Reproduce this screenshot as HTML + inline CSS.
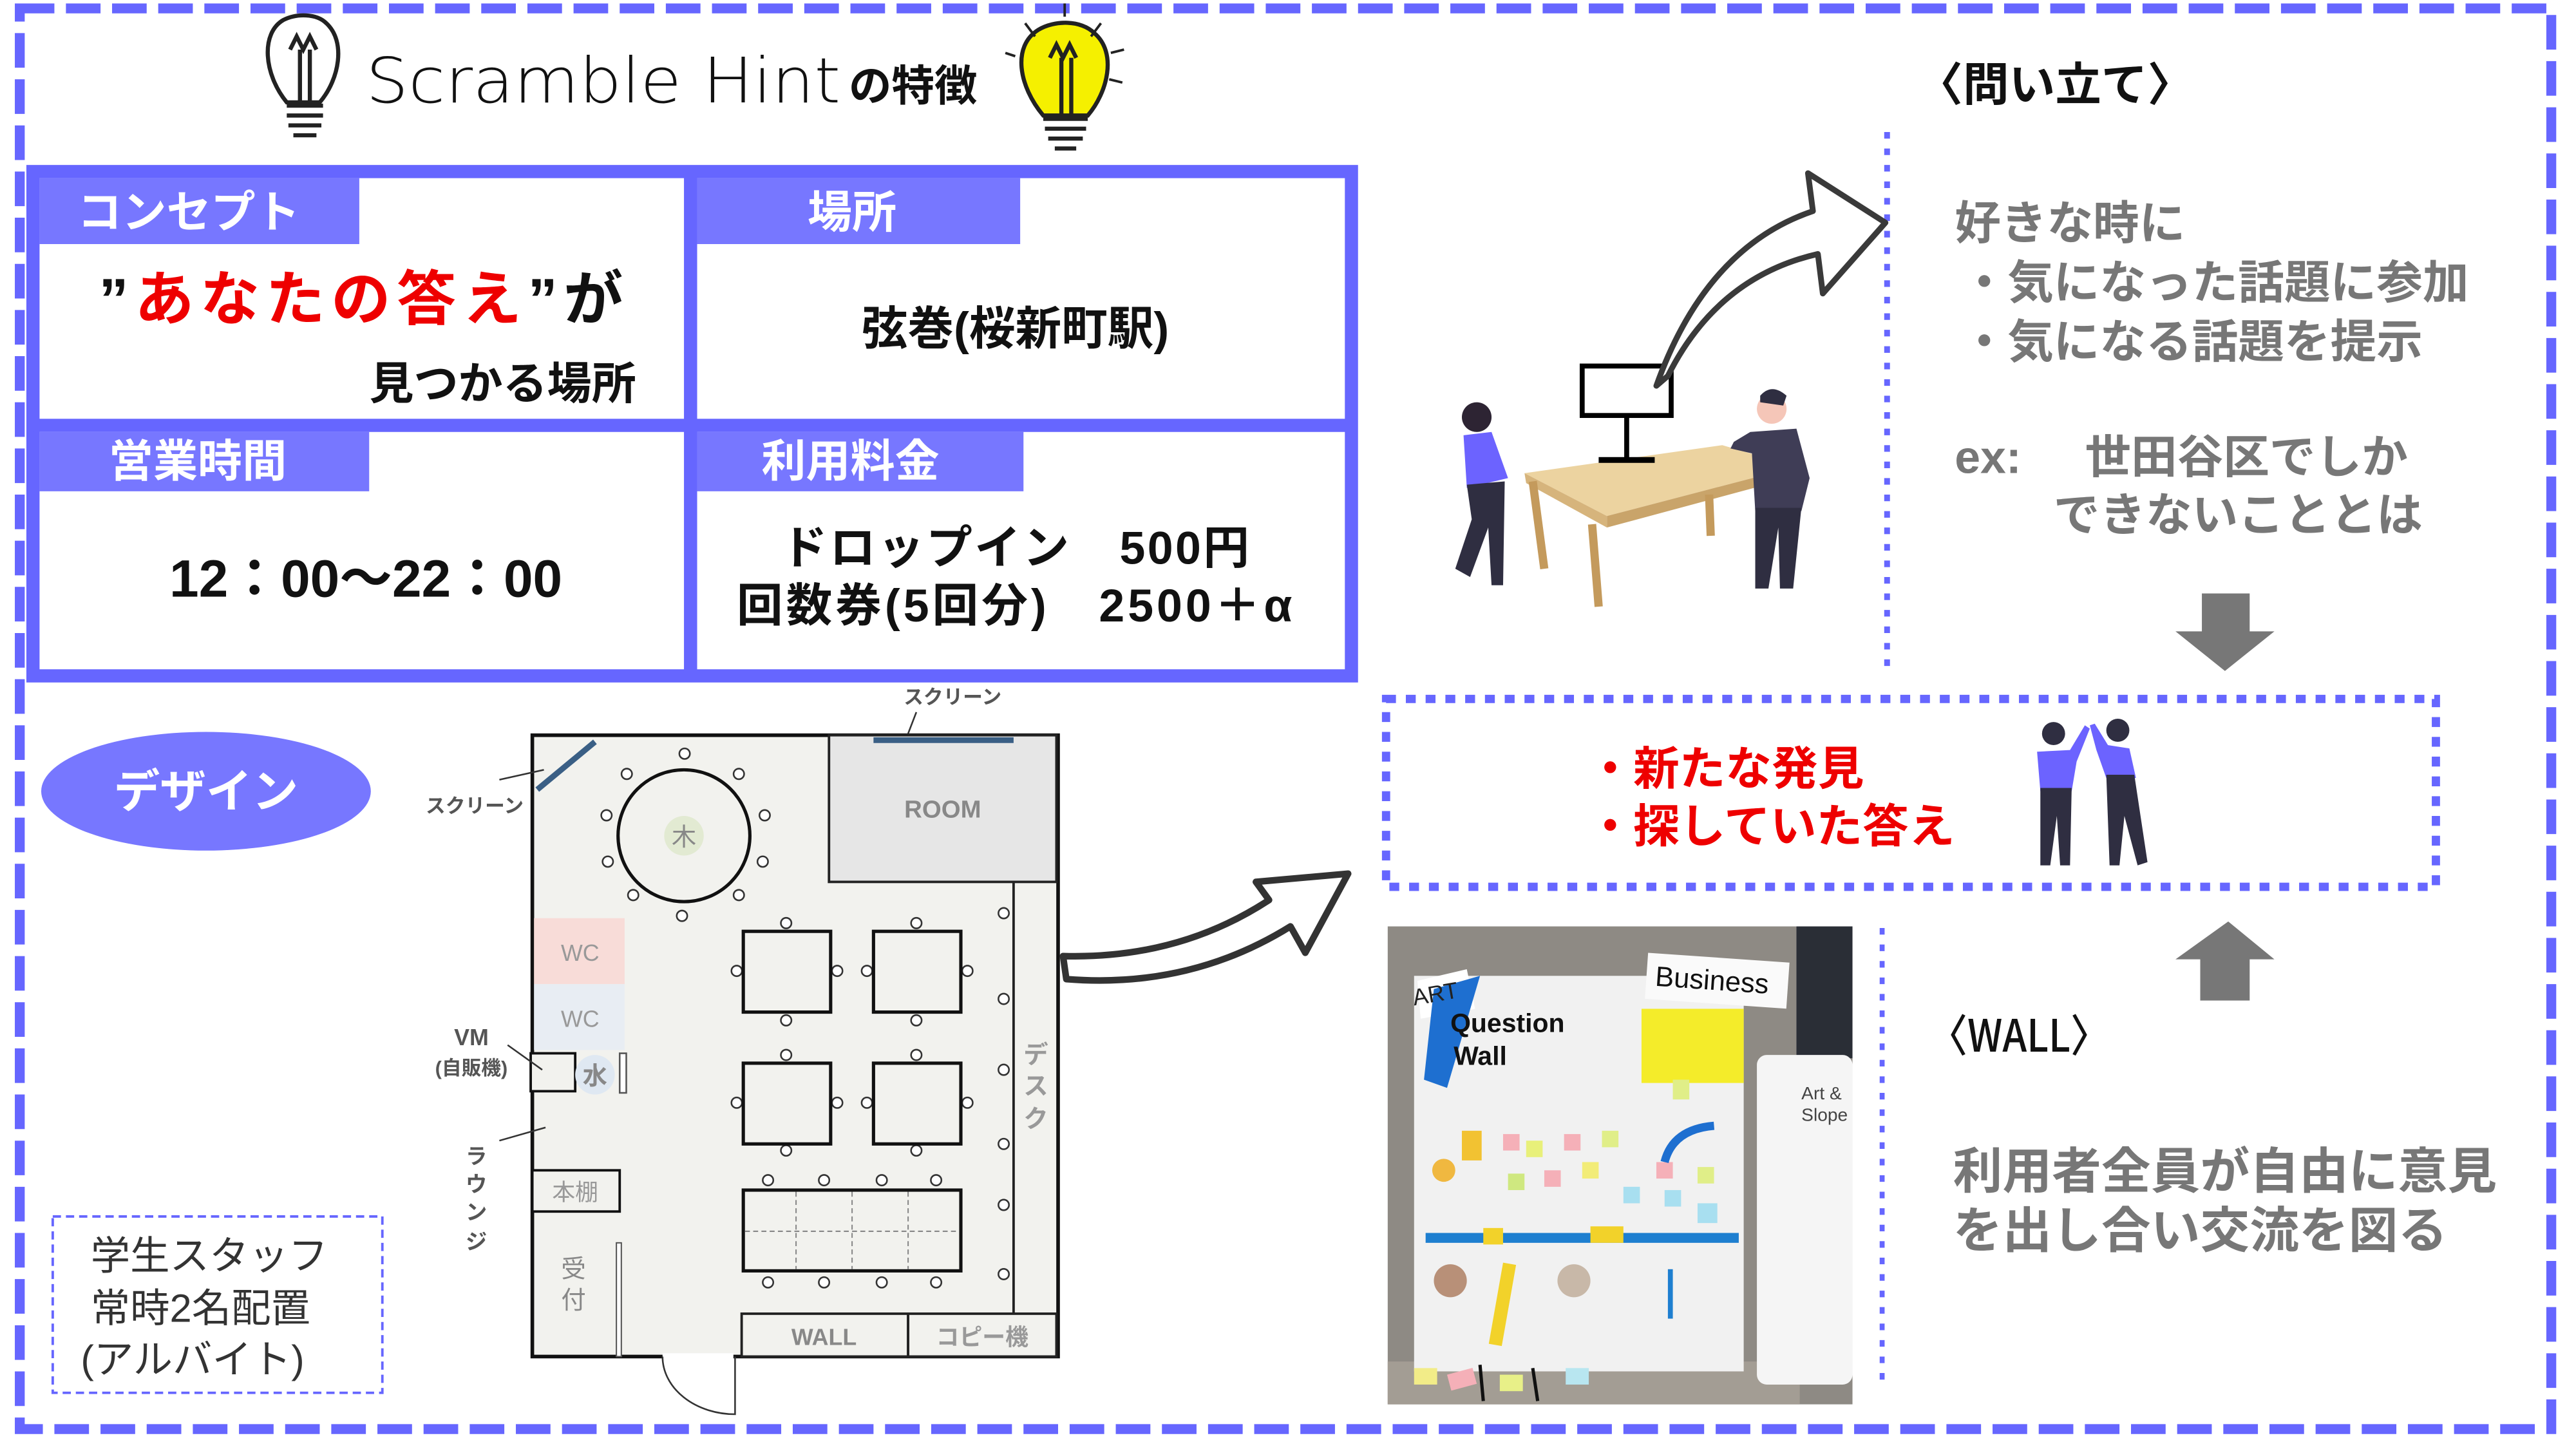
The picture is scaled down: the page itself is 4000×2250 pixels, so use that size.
<!DOCTYPE html>
<html><head><meta charset="utf-8"><style>
html,body{margin:0;padding:0;background:#fff;width:4000px;height:2250px;overflow:hidden}
svg{display:block}
text{font-family:"Liberation Sans","Noto Sans CJK JP",sans-serif}
</style></head><body>
<svg width="4000" height="2250" viewBox="0 0 1563 879" xmlns="http://www.w3.org/2000/svg">
<rect width="1563" height="879" fill="#fff"/>
<rect x="12" y="5" width="1536" height="862" fill="none" stroke="#6666ff" stroke-width="6" stroke-dasharray="21 7"/>

<g stroke="#222" stroke-width="2.5" fill="none">
<path d="M174,62 C160,45 158,20 172,12 C180,8 192,8 198,14 C210,25 206,48 194,62 Z" fill="#fff"/>
<path d="M176,30 L180,22 L184,30 L188,22 L192,30 M182,30 L182,62 M188,30 L188,62"/>
<path d="M174,64 L196,64 M174,70 L196,70 M175,76 L195,76 M178,82 L192,82"/>
</g>
<g stroke="#222" stroke-width="2.5">
<path d="M633,70 C618,52 614,28 630,18 C640,12 656,12 664,20 C678,32 672,56 660,70 Z" fill="#f5f000"/>
<path d="M637,35 L641,27 L645,35 L649,27 L653,35 M644,35 L644,70 M650,35 L650,70" fill="none"/>
<path d="M633,72 L660,72 M634,78 L659,78 M636,84 L657,84 M640,90 L653,90" fill="none"/>
<path d="M622,14 L628,22 M668,14 L662,22 M674,32 L682,30 M673,48 L681,50 M616,34 L610,32 M646,2 L646,10" fill="none" stroke-width="1.5"/>
</g>
<text x="222" y="62" font-size="38" fill="#111" textLength="288" lengthAdjust="spacingAndGlyphs" style="font-family:'DejaVu Sans','Liberation Sans',sans-serif;font-weight:200">Scramble Hint</text>
<text x="515" y="61" font-size="26" font-weight="bold" fill="#111">の特徴</text>

<rect x="20" y="104" width="800" height="306" fill="#fff" stroke="#6666ff" stroke-width="8"/>
<rect x="415" y="104" width="8" height="306" fill="#6666ff"/>
<rect x="20" y="254" width="800" height="8" fill="#6666ff"/>
<rect x="24" y="108" width="194" height="40" fill="#7777ff"/>
<rect x="423" y="108" width="196" height="40" fill="#7777ff"/>
<rect x="24" y="262" width="200" height="36" fill="#7777ff"/>
<rect x="423" y="262" width="198" height="36" fill="#7777ff"/>
<g font-size="27" font-weight="bold" fill="#fff">
<text x="47" y="138">コンセプト</text>
<text x="490" y="138">場所</text>
<text x="66" y="289">営業時間</text>
<text x="462" y="289">利用料金</text>
</g>
<text x="60" y="194" font-size="36" font-weight="bold" fill="#111" textLength="318" lengthAdjust="spacing">”<tspan fill="#ee0000">あなたの答え</tspan>”が</text>
<text x="386" y="242" font-size="27" font-weight="bold" fill="#111" text-anchor="end">見つかる場所</text>
<text x="616" y="209" font-size="28" font-weight="bold" fill="#111" text-anchor="middle">弦巻(桜新町駅)</text>
<text x="222" y="362" font-size="32" font-weight="bold" fill="#111" text-anchor="middle">12：00～22：00</text>
<text x="474" y="342" font-size="28" font-weight="bold" fill="#111" textLength="284" lengthAdjust="spacing">ドロップイン　500円</text>
<text x="447" y="377" font-size="28" font-weight="bold" fill="#111" textLength="337" lengthAdjust="spacing">回数券(5回分)　2500＋α</text>

<ellipse cx="125" cy="480" rx="100" ry="36" fill="#7777ff"/>
<text x="125" y="490" font-size="28" font-weight="bold" fill="#fff" text-anchor="middle">デザイン</text>

<rect x="32" y="738" width="200" height="107" fill="none" stroke="#6666ff" stroke-width="1.5" stroke-dasharray="5 3"/>
<g font-size="24" fill="#333">
<text x="55" y="770">学生スタッフ</text>
<text x="55" y="802">常時2名配置</text>
<text x="49" y="833">(アルバイト)</text>
</g>

<g>
<rect x="323" y="446" width="319" height="377" fill="#f2f2ee" stroke="#111" stroke-width="2.2"/>
<rect x="503" y="446" width="138" height="89" fill="#e6e6e6" stroke="#222" stroke-width="1.5"/>
<text x="572" y="496" font-size="15" font-weight="bold" fill="#888" text-anchor="middle">ROOM</text>
<line x1="615" y1="535" x2="615" y2="797" stroke="#222" stroke-width="1.5"/>
<rect x="450" y="797" width="101" height="26" fill="#f2f2ee" stroke="#222" stroke-width="1.5"/>
<rect x="551" y="797" width="90" height="26" fill="#f2f2ee" stroke="#222" stroke-width="1.5"/>
<text x="500" y="816" font-size="14" font-weight="bold" fill="#888" text-anchor="middle">WALL</text>
<text x="596" y="816" font-size="14" font-weight="bold" fill="#999" text-anchor="middle">コピー機</text>
<text font-size="15" fill="#999" font-weight="bold"><tspan x="621" y="645">デ</tspan><tspan x="621" y="664">ス</tspan><tspan x="621" y="684">ク</tspan></text>
<circle cx="415" cy="507" r="40" fill="none" stroke="#111" stroke-width="2"/>
<circle cx="415" cy="507" r="12" fill="#e2ead2"/>
<text x="415" y="513" font-size="15" fill="#888" text-anchor="middle">木</text>
<g fill="#fff" stroke="#333" stroke-width="1">
<circle cx="415.4" cy="457.2" r="3.2"/><circle cx="380.3" cy="469.5" r="3.2"/><circle cx="448.3" cy="469.5" r="3.2"/>
<circle cx="368" cy="494.6" r="3.2"/><circle cx="464" cy="494.6" r="3.2"/><circle cx="368.8" cy="522.7" r="3.2"/>
<circle cx="462.8" cy="522.7" r="3.2"/><circle cx="384.2" cy="543" r="3.2"/><circle cx="448.3" cy="543" r="3.2"/>
<circle cx="413.8" cy="555.6" r="3.2"/>
<circle cx="477" cy="560" r="3.2"/><circle cx="477" cy="619" r="3.2"/><circle cx="447" cy="589" r="3.2"/><circle cx="508" cy="589" r="3.2"/>
<circle cx="556" cy="560" r="3.2"/><circle cx="556" cy="619" r="3.2"/><circle cx="526" cy="589" r="3.2"/><circle cx="587" cy="589" r="3.2"/>
<circle cx="477" cy="640" r="3.2"/><circle cx="477" cy="698" r="3.2"/><circle cx="447" cy="669" r="3.2"/><circle cx="508" cy="669" r="3.2"/>
<circle cx="556" cy="640" r="3.2"/><circle cx="556" cy="698" r="3.2"/><circle cx="526" cy="669" r="3.2"/><circle cx="587" cy="669" r="3.2"/>
<circle cx="466" cy="716" r="3.2"/><circle cx="500" cy="716" r="3.2"/><circle cx="535" cy="716" r="3.2"/><circle cx="568" cy="716" r="3.2"/>
<circle cx="466" cy="778" r="3.2"/><circle cx="500" cy="778" r="3.2"/><circle cx="535" cy="778" r="3.2"/><circle cx="568" cy="778" r="3.2"/>
<circle cx="609" cy="554" r="3.2"/><circle cx="609" cy="606" r="3.2"/><circle cx="609" cy="649" r="3.2"/><circle cx="609" cy="694" r="3.2"/><circle cx="609" cy="731" r="3.2"/><circle cx="609" cy="773" r="3.2"/>
</g>
<g fill="none" stroke="#111" stroke-width="2">
<rect x="451" y="565" width="53" height="49"/><rect x="530" y="565" width="53" height="49"/>
<rect x="451" y="645" width="53" height="49"/><rect x="530" y="645" width="53" height="49"/>
<rect x="451" y="722" width="132" height="49"/>
</g>
<g stroke="#888" stroke-width="0.8" stroke-dasharray="3 2">
<line x1="483" y1="723" x2="483" y2="770"/><line x1="517" y1="723" x2="517" y2="770"/><line x1="551" y1="723" x2="551" y2="770"/>
<line x1="452" y1="747" x2="582" y2="747"/>
</g>
<rect x="324" y="557" width="55" height="40" fill="#f8dcd8"/>
<rect x="324" y="597" width="55" height="40" fill="#e8edf3"/>
<text x="352" y="583" font-size="14" fill="#999" text-anchor="middle">WC</text>
<text x="352" y="623" font-size="14" fill="#999" text-anchor="middle">WC</text>
<rect x="322" y="639" width="27" height="23" fill="#f2f2ee" stroke="#111" stroke-width="1.5"/>
<circle cx="361" cy="652" r="12" fill="#dfe8f2"/>
<text x="361" y="658" font-size="15" fill="#888" font-weight="bold" text-anchor="middle">水</text>
<rect x="376" y="639" width="4" height="24" fill="#fff" stroke="#555" stroke-width="1"/>
<rect x="323" y="710" width="53" height="25" fill="#f2f2ee" stroke="#111" stroke-width="1.5"/>
<text x="349" y="728" font-size="14" fill="#999" text-anchor="middle">本棚</text>
<rect x="374" y="754" width="3" height="69" fill="#fff" stroke="#555" stroke-width="0.8"/>
<text x="348" y="775" font-size="15" fill="#888" text-anchor="middle">受</text>
<text x="348" y="794" font-size="15" fill="#888" text-anchor="middle">付</text>
<rect x="402" y="821" width="43" height="4" fill="#fff"/>
<path d="M402,823 A44,35 0 0 0 446,858 L446,823" fill="none" stroke="#333" stroke-width="1"/>
<line x1="326" y1="479" x2="361" y2="450" stroke="#3a5f85" stroke-width="3.5"/>
<line x1="530" y1="449" x2="615" y2="449" stroke="#3a5f85" stroke-width="3.5"/>
<g font-size="12" fill="#555" font-weight="bold" text-anchor="middle">
<text x="578" y="427">スクリーン</text>
<text x="288" y="493">スクリーン</text>
<text x="286" y="634" font-size="14">VM</text>
<text x="286" y="652">(自販機)</text>
</g>
<text font-size="13" fill="#555" font-weight="bold" text-anchor="middle"><tspan x="289" y="706">ラ</tspan><tspan x="289" y="723">ウ</tspan><tspan x="289" y="740">ン</tspan><tspan x="289" y="758">ジ</tspan></text>
<g stroke="#333" stroke-width="1" fill="none">
<path d="M556,432 L551,445"/><path d="M303,473 L330,467"/><path d="M308,634 L329,649"/><path d="M303,692 L331,684"/>
</g>
</g>

<path d="M645,580 Q715,582 770,546 L762,535 L818,530 L792,578 L783,562 Q722,600 647,594 Z" fill="#fff" stroke="#333" stroke-width="4" stroke-linejoin="round"/>

<text x="1163" y="61" font-size="28" font-weight="bold" fill="#111">〈問い立て〉</text>
<line x1="1145" y1="80" x2="1145" y2="407" stroke="#6666ff" stroke-width="3.5" stroke-dasharray="4 6"/>
<g font-size="28" font-weight="bold" fill="#777">
<text x="1186" y="145">好きな時に</text>
<text x="1190" y="181">・気になった話題に参加</text>
<text x="1190" y="217">・気になる話題を提示</text>
<text x="1186" y="287">ex:</text>
<text x="1265" y="287">世田谷区でしか</text>
<text x="1246" y="322">できないこととは</text>
</g>
<path d="M1336,360 L1365,360 L1365,383 L1380,383 L1350,407 L1320,383 L1336,383 Z" fill="#777"/>

<polygon points="925,287 1045,270 1090,283 975,313" fill="#ecd3a0"/>
<polygon points="925,287 975,313 975,320 926,293" fill="#d6b47c"/>
<polygon points="975,313 1090,283 1090,289 975,320" fill="#c9a46a"/>
<g stroke="#c49a5c" stroke-width="5">
<line x1="930" y1="292" x2="937" y2="345"/><line x1="966" y1="318" x2="970" y2="368"/><line x1="1037" y1="300" x2="1038" y2="325"/><line x1="1085" y1="288" x2="1082" y2="340"/>
</g>
<rect x="960" y="222" width="54" height="30" fill="none" stroke="#000" stroke-width="3"/>
<line x1="987" y1="252" x2="987" y2="278" stroke="#000" stroke-width="3"/>
<line x1="970" y1="279" x2="1004" y2="279" stroke="#000" stroke-width="3.5"/>
<circle cx="896" cy="253" r="9" fill="#2d2433"/>
<polygon points="888,264 905,262 915,290 890,296" fill="#6c63ff"/>
<path d="M890,294 L913,292 L912,355 L905,355 L903,320 L892,350 L883,345 L893,315 Z" fill="#2f2e41"/>
<circle cx="1075" cy="248" r="9" fill="#f5c6b8"/>
<path d="M1068,240 Q1075,232 1084,240 L1082,246 L1068,244 Z" fill="#2f2e41"/>
<path d="M1062,262 L1090,260 L1098,290 L1093,310 L1065,310 L1063,275 L1050,272 L1052,268 Z" fill="#3f3d56"/>
<path d="M1065,308 L1093,308 L1088,357 L1080,357 L1079,320 L1073,357 L1065,357 Z" fill="#2f2e41"/>
<path d="M1005,234 Q1035,150 1100,128 L1097,105 L1144,135 L1106,178 L1103,154 Q1042,168 1012,228 Z" fill="#fff" stroke="#3a3a3a" stroke-width="3.5" stroke-linejoin="round"/>

<rect x="841" y="424" width="637" height="114" fill="none" stroke="#6666ff" stroke-width="5" stroke-dasharray="6 6"/>
<g font-size="28" font-weight="bold" fill="#ee0000">
<text x="963" y="476">・新たな発見</text>
<text x="963" y="511">・探していた答え</text>
</g>
<circle cx="1246" cy="445" r="7" fill="#2f2e41"/>
<path d="M1236,456 L1256,455 L1265,440 L1268,442 L1260,462 L1257,480 L1238,480 Z" fill="#6c63ff"/>
<path d="M1238,478 L1257,478 L1256,525 L1250,525 L1248,495 L1244,525 L1238,525 Z" fill="#2f2e41"/>
<circle cx="1285" cy="443" r="7" fill="#2f2e41"/>
<path d="M1272,455 L1268,440 L1271,439 L1279,452 L1292,454 L1296,472 L1278,472 Z" fill="#6c63ff"/>
<path d="M1278,470 L1295,470 L1303,523 L1297,525 L1289,495 L1286,525 L1280,525 Z" fill="#2f2e41"/>

<rect x="842" y="562" width="282" height="290" fill="#8e8a84"/>
<rect x="1090" y="562" width="34" height="80" fill="#2a2e36"/>
<rect x="842" y="826" width="250" height="26" fill="#a39d94"/>
<rect x="858" y="592" width="200" height="240" fill="#f1f1f1"/>
<rect x="1066" y="640" width="58" height="200" fill="#f5f5f5" rx="6"/>
<polygon points="860,595 890,588 895,612 862,618" fill="#fff"/>
<path d="M870,600 L898,592 L878,660 L864,655 Z" fill="#1e6fd0"/>
<text x="858" y="610" font-size="14" fill="#222" transform="rotate(-10 858 610)">ART</text>
<text x="880" y="626" font-size="16" font-weight="bold" fill="#111">Question</text>
<text x="882" y="646" font-size="16" font-weight="bold" fill="#111">Wall</text>
<rect x="1000" y="578" width="86" height="28" fill="#fafafa" transform="rotate(4 1000 578)"/>
<text x="1004" y="598" font-size="17" fill="#111" transform="rotate(4 1004 598)">Business</text>
<rect x="996" y="612" width="62" height="45" fill="#f4ec2a"/>
<text x="1093" y="667" font-size="11" fill="#444">Art &amp;</text>
<text x="1093" y="680" font-size="11" fill="#444">Slope</text>
<g>
<rect x="887" y="686" width="12" height="18" fill="#f2c232"/>
<rect x="912" y="688" width="10" height="10" fill="#f5b0b8"/>
<rect x="926" y="692" width="10" height="10" fill="#e8f07a"/>
<rect x="949" y="688" width="10" height="10" fill="#f5b0b8"/>
<rect x="972" y="686" width="10" height="10" fill="#e0ee88"/>
<rect x="960" y="705" width="10" height="10" fill="#f2ec78"/>
<rect x="937" y="710" width="10" height="10" fill="#f5b0b8"/>
<rect x="915" y="712" width="10" height="10" fill="#cfe880"/>
<rect x="985" y="720" width="10" height="10" fill="#a8dff0"/>
<rect x="1010" y="722" width="10" height="10" fill="#a8dff0"/>
<rect x="1030" y="730" width="12" height="12" fill="#a8dff0"/>
<rect x="1005" y="705" width="10" height="10" fill="#f5b0b8"/>
<rect x="1030" y="708" width="10" height="10" fill="#e0ee88"/>
<rect x="1015" y="655" width="10" height="12" fill="#e0ee88"/>
<circle cx="876" cy="710" r="7" fill="#f0b840"/>
<path d="M1010,705 Q1015,685 1040,683" fill="none" stroke="#1e6fd0" stroke-width="5"/>
<rect x="865" y="748" width="190" height="6" fill="#1e7fd0"/>
<rect x="900" y="745" width="12" height="10" fill="#f2d22a"/>
<rect x="965" y="744" width="20" height="10" fill="#f2d22a"/>
<circle cx="880" cy="777" r="10" fill="#b89078"/>
<circle cx="955" cy="777" r="10" fill="#c8b8a8"/>
<rect x="912" y="766" width="8" height="50" fill="#f2d22a" transform="rotate(10 912 766)"/>
<rect x="1012" y="770" width="3" height="30" fill="#1e7fd0"/>
<rect x="858" y="830" width="14" height="10" fill="#f2ec88"/>
<rect x="878" y="834" width="16" height="10" fill="#f5b0b8" transform="rotate(-15 878 834)"/>
<rect x="910" y="834" width="14" height="10" fill="#e8f088"/>
<rect x="950" y="830" width="14" height="10" fill="#b8e6f0"/>
<line x1="898" y1="828" x2="900" y2="850" stroke="#111" stroke-width="2"/>
<line x1="930" y1="830" x2="933" y2="850" stroke="#111" stroke-width="2"/>
</g>
<line x1="1142" y1="563" x2="1142" y2="842" stroke="#6666ff" stroke-width="3" stroke-dasharray="4 6"/>
<path d="M1335,607 L1365,607 L1365,582 L1380,582 L1352,559 L1320,582 L1335,582 Z" fill="#777"/>
<text x="1170" y="638" font-size="27" fill="#111" font-weight="500" textLength="110" lengthAdjust="spacingAndGlyphs" style="font-family:'Noto Sans CJK JP','Liberation Sans',sans-serif">〈WALL〉</text>
<g font-size="30" font-weight="bold" fill="#777">
<text x="1185" y="721">利用者全員が自由に意見</text>
<text x="1185" y="757">を出し合い交流を図る</text>
</g>
</svg>
</body></html>
